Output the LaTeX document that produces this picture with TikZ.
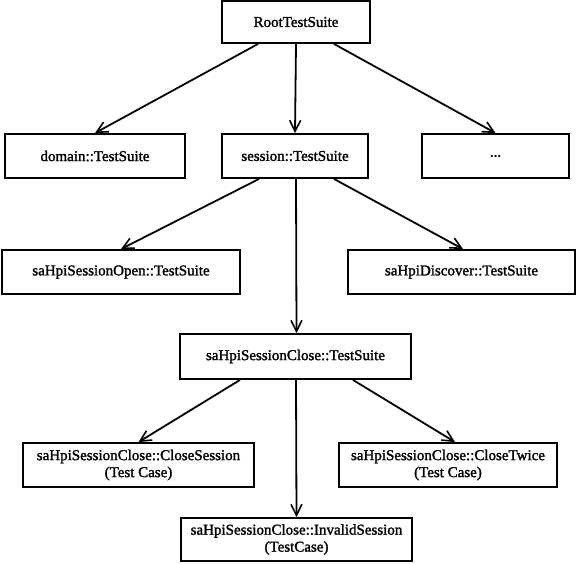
\documentclass[tikz,border=0pt]{standalone}
\usepackage{fontspec}
\newfontfamily\lblfont{Liberation Serif}[FakeBold=1.6]
\usetikzlibrary{arrows.meta}
\begin{document}
\begin{tikzpicture}[x=1pt,y=-1pt,
  suite/.style={draw=black, line width=1.9pt, fill=white, inner sep=0pt,
    align=center, font=\lblfont\fontsize{15}{17}\selectfont},
  link/.style={line width=1.8pt, -{Straight Barb[length=11pt,width=11pt,line width=1.6pt]}}]
\useasboundingbox (0,0) rectangle (578,563);
% tree of test suites, coordinates in pixels from the top-left corner
\node[suite, minimum width=148pt, minimum height=42pt] (root)    at (296,22)    {RootTestSuite};
\node[suite, minimum width=180pt, minimum height=44pt] (domain)  at (95,156)    {domain::TestSuite};
\node[suite, minimum width=146pt, minimum height=44pt] (session) at (295,156)   {session::TestSuite};
\node[suite, minimum width=147pt, minimum height=44pt] (more)    at (495.5,156) {...};
\node[suite, minimum width=238pt, minimum height=44pt] (open)    at (121,272)   {saHpiSessionOpen::TestSuite};
\node[suite, minimum width=227pt, minimum height=44pt] (disc)    at (461.5,272) {saHpiDiscover::TestSuite};
\node[suite, minimum width=231pt, minimum height=45pt] (close)   at (295.5,356.5) {saHpiSessionClose::TestSuite};
\node[suite, minimum width=231pt, minimum height=44pt] (csess)   at (138.5,465) {saHpiSessionClose::CloseSession\\(Test Case)};
\node[suite, minimum width=218pt, minimum height=44pt] (ctwice)  at (448,465)   {saHpiSessionClose::CloseTwice\\(Test Case)};
\node[suite, minimum width=231pt, minimum height=43pt] (inval)   at (296.5,539.5) {saHpiSessionClose::InvalidSession\\(TestCase)};
% connectors
\draw[link] ([xshift=-38pt]root.south) -- (domain.north);
\draw[link] (root.south) -- (session.north);
\draw[link] ([xshift=38pt]root.south) -- (more.north);
\draw[link] ([xshift=-36pt]session.south) -- (open.north);
\draw[link] ([xshift=1pt]session.south) -- ([xshift=1pt]close.north);
\draw[link] ([xshift=39pt]session.south) -- ([xshift=1.5pt]disc.north);
\draw[link] ([xshift=-55.5pt]close.south) -- (csess.north);
\draw[link] ([xshift=0.5pt]close.south) -- (inval.north);
\draw[link] ([xshift=57.5pt]close.south) -- ([xshift=7pt]ctwice.north);
\end{tikzpicture}
\end{document}
